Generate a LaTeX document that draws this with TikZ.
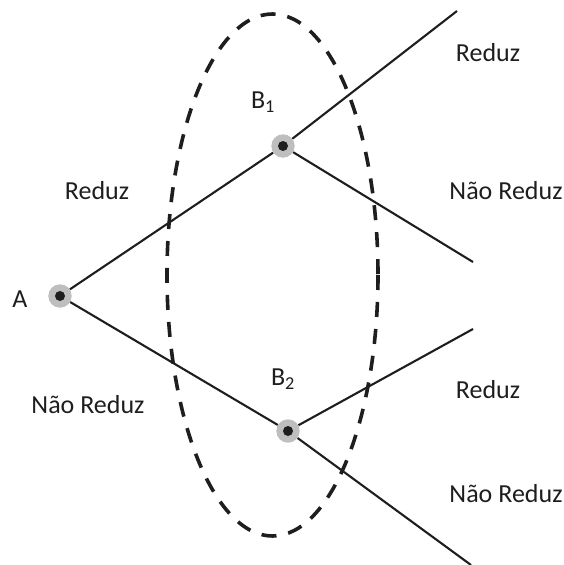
\documentclass[tikz,border=0pt]{standalone}
\usepackage{fontspec}
\setmainfont{Carlito}
\definecolor{dotgray}{RGB}{190,190,190}
\definecolor{inkc}{RGB}{30,30,30}
\tikzset{
  dotnode/.style={circle, fill=dotgray, minimum size=23.4pt, inner sep=0pt,
    path picture={\fill[inkc] (path picture bounding box.center) circle (5pt);}},
  branch/.style={draw=inkc, line width=2.1pt},
  lbl/.style={font=\fontsize{26}{29}\selectfont, text=inkc, inner sep=0pt},
  ring/.style={draw=inkc, line width=3.6pt, dash pattern=on 15pt off 12pt}
}
\begin{document}
\begin{tikzpicture}[x=1pt,y=-1pt]
\useasboundingbox (0,0) rectangle (564,565);
\draw[ring] (272.5,275) ellipse [x radius=105.5, y radius=261];
\node[dotnode] (A) at (60,296) {};
\node[dotnode] (B1) at (283,146) {};
\node[dotnode] (B2) at (288,431) {};
\coordinate (e1) at (457,11);
\coordinate (e2) at (473,262);
\coordinate (e3) at (473,329);
\coordinate (e4) at (471,565);
\draw[branch] (A) -- (B1);
\draw[branch] (A) -- (B2);
\draw[branch] (B1) -- (e1);
\draw[branch] (B1) -- (e2);
\draw[branch] (B2) -- (e3);
\draw[branch] (B2) -- (e4);
\node[lbl] (lA) at (20,299) {A};
\node[lbl] (lB1) at (263,102) {B\textsubscript{1}};
\node[lbl] (lB2) at (283,379) {B\textsubscript{2}};
\node[lbl] (r1) at (488,53) {Reduz};
\node[lbl] (n1) at (506,191) {Não Reduz};
\node[lbl] (r0) at (97,191) {Reduz};
\node[lbl] (n0) at (88,405) {Não Reduz};
\node[lbl] (r2) at (488,390) {Reduz};
\node[lbl] (n2) at (506,494) {Não Reduz};
\end{tikzpicture}
\end{document}
